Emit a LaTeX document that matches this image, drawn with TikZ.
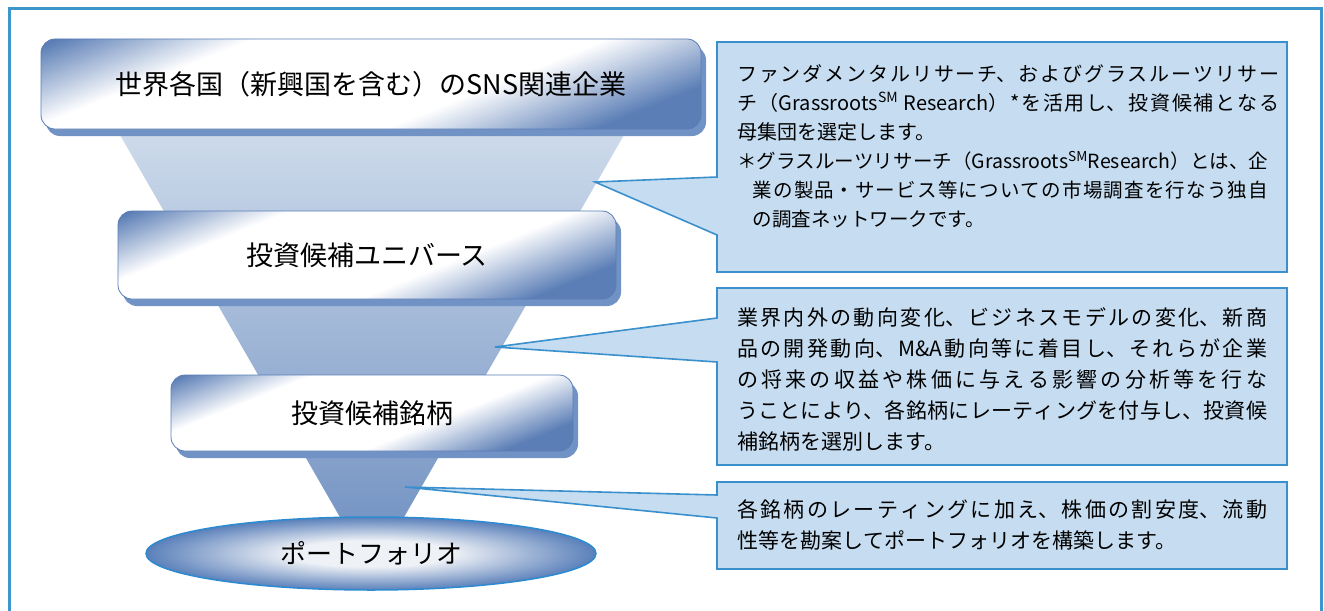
\documentclass[tikz,border=0pt]{standalone}
\usepackage{fontspec}
\setmainfont{Noto Sans CJK JP}
\usetikzlibrary{shapes.geometric}

\XeTeXlinebreaklocale "ja"
\XeTeXlinebreakskip=0pt plus 4pt

\definecolor{framecol}{HTML}{3D96CC}
\definecolor{boxdark}{HTML}{5B7EB6}
\definecolor{boxedge}{HTML}{5A7DB6}
\definecolor{boxshadow}{HTML}{7192C4}
\definecolor{funneltop}{HTML}{CEDBEB}
\definecolor{funnelbot}{HTML}{7191C2}
\definecolor{notefill}{HTML}{C6DDF1}
\definecolor{noteline}{HTML}{3A90CC}
\definecolor{ellline}{HTML}{2C8BD0}
\definecolor{ellouter}{HTML}{5A80BA}
\definecolor{ellinner}{HTML}{EEF1F6}

\pgfdeclarehorizontalshading{stageshade}{100bp}{color(0bp)=(boxdark); color(26bp)=(boxdark); color(37bp)=(white); color(57bp)=(white); color(69bp)=(boxdark); color(100bp)=(boxdark)}
\pgfdeclareradialshading{plateshade}{\pgfpoint{0bp}{0bp}}{color(0bp)=(ellinner); color(9bp)=(ellinner); color(25bp)=(ellouter); color(50bp)=(ellouter)}

\begin{document}
\begin{tikzpicture}[x=1pt, y=-1pt,
    stagetext/.style={inner sep=0pt, font={\fontsize{27pt}{30pt}\selectfont}},
    callout/.style={draw=noteline, fill=notefill, line width=1.6pt},
    notetext/.style={anchor=north west, inner sep=0pt, align=justify}]
    % page and frame
    \useasboundingbox (0,0) rectangle (1324,610);
    \draw[framecol, line width=3pt] (9,9) rectangle (1321,650);

    % funnel
    \shade[top color=funneltop, bottom color=funnelbot] (116,128) -- (628,128) -- (388,545) -- (356,545) -- cycle;

    % stages
    \foreach \nm/\cx/\cy/\w/\h/\txt in {world/371/84/660/90/{世界各国（新興国を含む）のSNS関連企業},
            universe/367/255/498/88/{投資候補ユニバース}, candidates/372/413/402/76/{投資候補銘柄}} {
        \fill[boxshadow, rounded corners=14pt] (\cx-\w/2+5,\cy-\h/2+7) rectangle +(\w,\h);
        \begin{scope}
            \clip[rounded corners=14pt] (\cx-\w/2,\cy-\h/2) rectangle +(\w,\h);
            \shade[shading=stageshade, transform canvas={rotate around={-68:(\cx,\cy)}}]
                ({\cx-0.375*\w/2-0.927*\h/2},{\cy-0.927*\w/2-0.375*\h/2-20})
                rectangle ({\cx+0.375*\w/2+0.927*\h/2},{\cy+0.927*\w/2+0.375*\h/2+20});
        \end{scope}
        \draw[boxedge, line width=0.8pt, rounded corners=14pt] (\cx-\w/2,\cy-\h/2) rectangle +(\w,\h);
        \node[stagetext] (\nm) at (\cx,\cy) {\txt};
    }
    \node[ellipse, draw=ellline, line width=1.5pt, shading=plateshade,
        minimum width=450pt, minimum height=73pt, font={\fontsize{26pt}{30pt}\selectfont}] (portfolio) at (371,553.5) {ポートフォリオ};

    % callouts
    \foreach \i/\ytop/\ybot/\tipx/\tipy/\ja/\jb in {1/42/272/595/182/177/235, 2/288/465/495/347/318/362, 3/482/569/405/487/495/518} {
        \coordinate (tip\i) at (\tipx,\tipy);
        \filldraw[callout] (717,\ytop) -- (1287,\ytop) -- (1287,\ybot) -- (717,\ybot) -- (717,\jb) -- (tip\i) -- (717,\ja) -- cycle;
    }

    \node[notetext, text width=542pt, font={\fontsize{20pt}{29pt}\selectfont}] (fundtext) at (737,64)
        {ファンダメンタルリサーチ、およびグラスルーツリサー\linebreak
         チ（Grassroots\textsuperscript{SM} Research）*を活用し、投資候補となる\linebreak
         母集団を選定します。};
    \node[notetext, text width=531pt, font={\fontsize{19.5pt}{29pt}\selectfont}] (fundnote) at (737,151)
        {\hangindent=0.8em\hangafter=1 ＊グラスルーツリサーチ（Grassroots\textsuperscript{SM}Research）とは、企\linebreak
         業の製品・サービス等についての市場調査を行なう独自\linebreak
         の調査ネットワークです。\par};
    \node[notetext, text width=530pt, font={\fontsize{21pt}{31.2pt}\selectfont}] (ratingtext) at (737,307)
        {業界内外の動向変化、ビジネスモデルの変化、新商\linebreak
         品の開発動向、M\&A動向等に着目し、それらが企業\linebreak
         の将来の収益や株価に与える影響の分析等を行な\linebreak
         うことにより、各銘柄にレーティングを付与し、投資候\linebreak
         補銘柄を選別します。};
    \node[notetext, text width=530pt, font={\fontsize{21pt}{31pt}\selectfont}] (buildtext) at (737,499)
        {各銘柄のレーティングに加え、株価の割安度、流動\linebreak
         性等を勘案してポートフォリオを構築します。};
\end{tikzpicture}
\end{document}
